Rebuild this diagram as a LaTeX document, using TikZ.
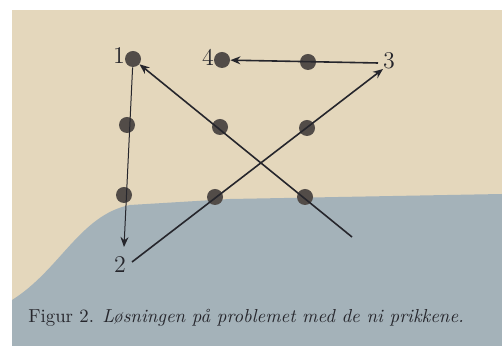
\documentclass[tikz,border=0pt]{standalone}
\usepackage{xcolor}
\usepackage{tikz}
\usetikzlibrary{arrows.meta, positioning, calc}

\definecolor{paper}{RGB}{228,215,188}
\definecolor{shadow}{RGB}{164,178,185}
\definecolor{ink}{RGB}{38,38,44}
\definecolor{dotgray}{RGB}{82,76,72}

\begin{document}
\begin{tikzpicture}[x=0.5pt, y=-0.5pt,
    dot/.style={circle, fill=dotgray, inner sep=0pt, minimum size=8pt},
    num/.style={font=\large, text=ink, inner sep=1pt},
    stroke/.style={draw=ink, line width=0.8pt, -{Stealth[length=5pt, width=4pt]}}]

    % photo background
    \useasboundingbox (0,0) rectangle (502,356);
    \fill[white] (0,0) rectangle (502,356);
    \fill[paper] (12,10) rectangle (502,346);
    \fill[shadow] (12,300) .. controls (60,270) and (80,215) .. (130,205)
        -- (230,199) -- (502,194) -- (502,346) -- (12,346) -- cycle;

    % the nine dots
    \node[dot] (d11) at (133,59) {};
    \node[dot] (d12) at (222,60) {};
    \node[dot] (d13) at (308,62) {};
    \node[dot] (d21) at (127,125) {};
    \node[dot] (d22) at (220,127) {};
    \node[dot] (d23) at (307,128) {};
    \node[dot] (d31) at (124,195) {};
    \node[dot] (d32) at (215,197) {};
    \node[dot] (d33) at (305,197) {};

    % turning points
    \node[num] (n1) at (119,56) {1};
    \node[num] (n4) at (208,57) {4};
    \node[num] (n3) at (389,61) {3};
    \node[num] (n2) at (120,265) {2};

    \coordinate (start) at (352,237);
    \coordinate (end2) at (124,247);
    \coordinate (from2) at (132,262);
    \coordinate (end3) at (383,69);
    \coordinate (from3) at (378,63);

    \draw[stroke] (start) -- (d11);
    \draw[stroke, line width=0.5pt] (d11) -- (end2);
    \draw[stroke] (from2) -- (end3);
    \draw[stroke] (from3) -- (d12);

    \node[anchor=west, text=ink, inner sep=0pt, scale=0.94] (caption) at (28,318)
        {Figur 2. \textit{Løsningen på problemet med de ni prikkene.}};
\end{tikzpicture}
\end{document}
